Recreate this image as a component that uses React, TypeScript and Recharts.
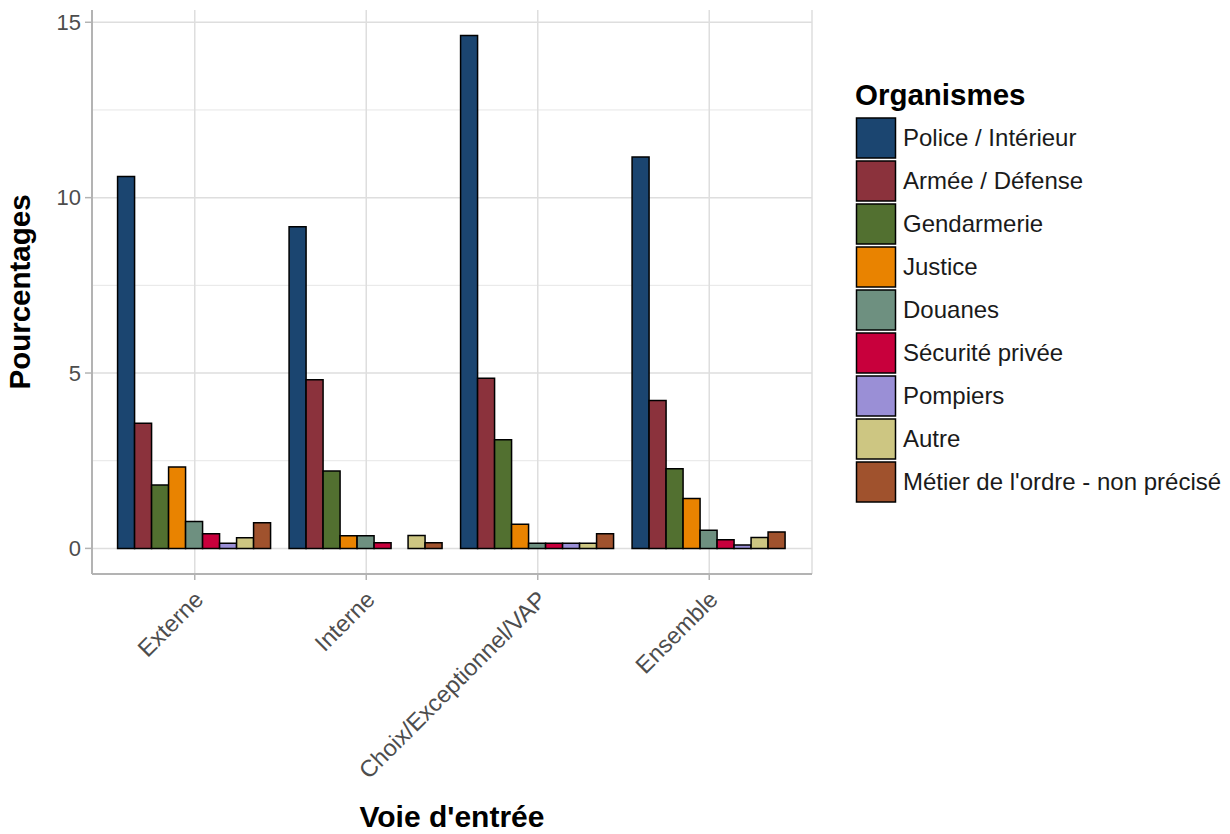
import { Bar, BarChart, CartesianGrid, Legend, XAxis, YAxis } from 'recharts'

const voies = ['Externe', 'Interne', 'Choix/Exceptionnel/VAP', 'Ensemble']

const organismes = [
  'Police / Intérieur',
  'Armée / Défense',
  'Gendarmerie',
  'Justice',
  'Douanes',
  'Sécurité privée',
  'Pompiers',
  'Autre',
  "Métier de l'ordre - non précisé",
]

const couleurs = [
  '#1b4570',
  '#8b323c',
  '#527030',
  '#e98300',
  '#6e9080',
  '#c8003c',
  '#9a8fd6',
  '#cdc682',
  '#a0522d',
]

// one list per organisme, values in the order of voies
const police = [10.6, 9.17, 14.62, 11.16]
const armee = [3.57, 4.81, 4.85, 4.22]
const gendarmerie = [1.81, 2.21, 3.1, 2.27]
const justice = [2.32, 0.36, 0.69, 1.42]
const douanes = [0.77, 0.36, 0.15, 0.52]
const securite = [0.42, 0.16, 0.15, 0.25]
const pompiers = [0.15, 0, 0.15, 0.1]
const autre = [0.3, 0.37, 0.15, 0.31]
const metier = [0.73, 0.16, 0.42, 0.47]

const series = [police, armee, gendarmerie, justice, douanes, securite, pompiers, autre, metier]

const yTicks = [0, 5, 10, 15]
const yMinor = [2.5, 7.5, 12.5]

const data = voies.map((voie, i) => {
  const row: Record<string, string | number> = { voie }
  series.forEach((s, k) => {
    row[`s${k}`] = s[i]
  })
  return row
})

const font = '"Liberation Sans", Arial, sans-serif'
const grey = '#b3b3b3'

function XTick({ x, y, payload }: any) {
  const tx = x + 10
  const ty = y + 19
  return (
    <text
      x={tx}
      y={ty}
      transform={`rotate(-45 ${tx} ${ty})`}
      textAnchor="end"
      fontSize={23.5}
      fontFamily={font}
      fill="#4d4d4d"
    >
      {payload.value}
    </text>
  )
}

function Legende() {
  return (
    <svg width={375} height={480}>
      <text x={0} y={27} fontSize={29.5} fontWeight="bold" fontFamily={font} fill="#000">
        Organismes
      </text>
      {organismes.map((nom, i) => (
        <g key={nom}>
          <rect
            x={1.5}
            y={40 + i * 43}
            width={39}
            height={40}
            fill={couleurs[i]}
            stroke="#000"
            strokeWidth={1.5}
          />
          <text x={48} y={40 + i * 43 + 28} fontSize={24} fontFamily={font} fill="#1a1a1a">
            {nom}
          </text>
        </g>
      ))}
    </svg>
  )
}

export default function App() {
  return (
    <div style={{ position: 'absolute', left: 0, top: 0, background: '#fff' }}>
      <BarChart
        width={1230}
        height={834}
        data={data}
        margin={{ top: 10, right: 418, bottom: 0, left: 0 }}
        barCategoryGap="5%"
        barGap={0}
      >
        <CartesianGrid vertical={false} horizontalValues={yMinor} stroke="#e6e6e6" strokeWidth={1} />
        <CartesianGrid horizontalValues={yTicks} stroke="#dedede" strokeWidth={1.5} />
        <XAxis
          dataKey="voie"
          height={260}
          padding={{ left: 17, right: 17 }}
          tickSize={6}
          tickLine={{ stroke: grey, strokeWidth: 1.5 }}
          axisLine={{ stroke: grey, strokeWidth: 2 }}
          tick={<XTick />}
          interval={0}
          label={{
            content: ({ viewBox }: any) => (
              <text
                x={viewBox.x + viewBox.width / 2}
                y={827}
                textAnchor="middle"
                fontSize={30}
                fontWeight="bold"
                fontFamily={font}
                fill="#000"
              >
                Voie d'entrée
              </text>
            ),
          }}
        />
        <XAxis xAxisId="top" dataKey="voie" orientation="top" height={0} tick={false} tickLine={false} axisLine={{ stroke: grey, strokeWidth: 2 }} />
        <YAxis
          width={92}
          type="number"
          domain={[-0.73, 15.35]}
          ticks={yTicks}
          allowDataOverflow
          tickSize={7}
          tickMargin={4}
          tickLine={{ stroke: grey, strokeWidth: 1.5 }}
          axisLine={{ stroke: grey, strokeWidth: 2 }}
          tick={{ fontSize: 22, fontFamily: font, fill: '#4d4d4d' }}
          label={{
            content: ({ viewBox }: any) => {
              const cx = viewBox.x + 30
              const cy = viewBox.y + viewBox.height / 2
              return (
                <text
                  x={cx}
                  y={cy}
                  transform={`rotate(-90 ${cx} ${cy})`}
                  textAnchor="middle"
                  fontSize={29.5}
                  fontWeight="bold"
                  fontFamily={font}
                  fill="#000"
                >
                  Pourcentages
                </text>
              )
            },
          }}
        />
        <YAxis yAxisId="right" orientation="right" width={0} type="number" domain={[0, 1]} tick={false} tickLine={false} axisLine={{ stroke: grey, strokeWidth: 2 }} />
        {organismes.map((nom, k) => (
          <Bar
            key={nom}
            dataKey={`s${k}`}
            name={nom}
            fill={couleurs[k]}
            stroke="#000"
            strokeWidth={1.5}
            isAnimationActive={false}
          />
        ))}
        <Legend
          layout="vertical"
          align="center"
          verticalAlign="middle"
          wrapperStyle={{ left: 855, top: 78, width: 375, height: 480 }}
          content={() => <Legende />}
        />
      </BarChart>
    </div>
  )
}
